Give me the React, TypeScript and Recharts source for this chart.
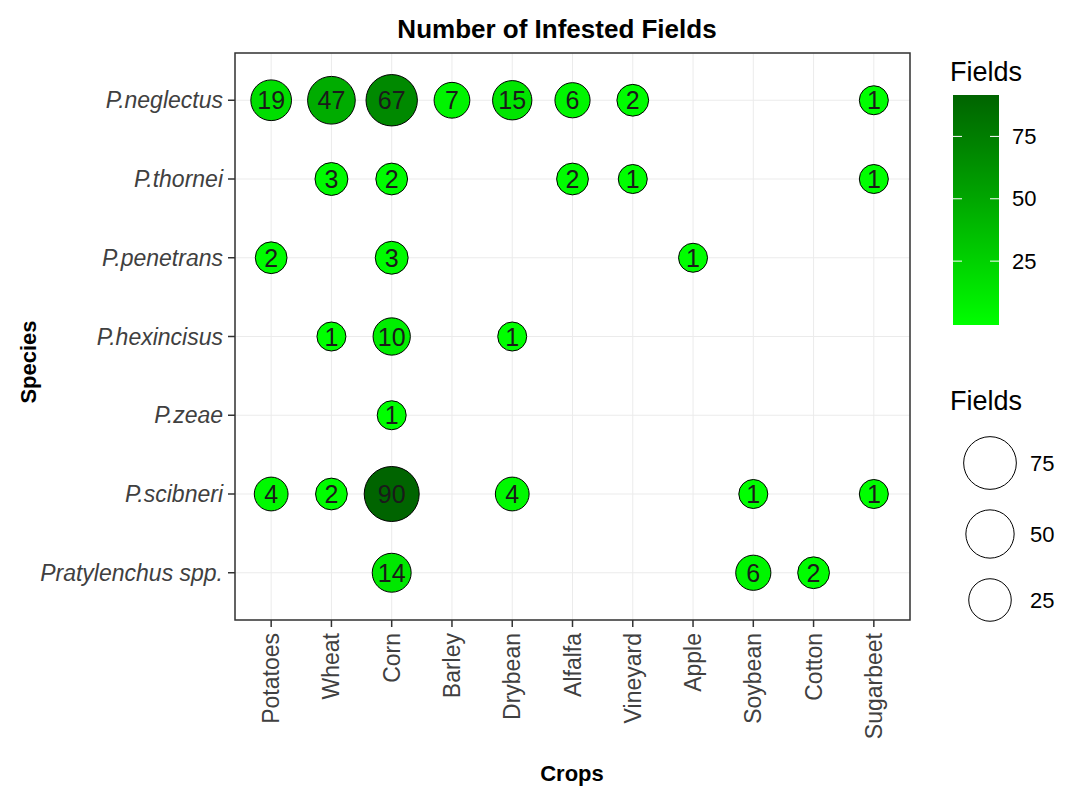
import React from 'react'
import {
  ScatterChart,
  Scatter,
  XAxis,
  YAxis,
  CartesianGrid,
  ReferenceArea,
} from 'recharts'

const crops = ['Potatoes', 'Wheat', 'Corn', 'Barley', 'Drybean', 'Alfalfa', 'Vineyard', 'Apple', 'Soybean', 'Cotton', 'Sugarbeet']
const species = ['P.neglectus', 'P.thornei', 'P.penetrans', 'P.hexincisus', 'P.zeae', 'P.scibneri', 'Pratylenchus spp.']

// fields per crop (same order as crops), null = not found
const neglectus = [19, 47, 67, 7, 15, 6, 2, null, null, null, 1]
const thornei = [null, 3, 2, null, null, 2, 1, null, null, null, 1]
const penetrans = [2, null, 3, null, null, null, null, 1, null, null, null]
const hexincisus = [null, 1, 10, null, 1, null, null, null, null, null, null]
const zeae = [null, null, 1, null, null, null, null, null, null, null, null]
const scibneri = [4, 2, 90, null, 4, null, null, null, 1, null, 1]
const sppCounts = [null, null, 14, null, null, null, null, null, 6, 2, null]

const speciesRows = [neglectus, thornei, penetrans, hexincisus, zeae, scibneri, sppCounts]

const legendBreaks = [75, 50, 25]

const MIN_V = 1
const MAX_V = 90
const FONT = '"Liberation Sans", Arial, sans-serif'
const AXIS_TEXT = '#404040'

// colour scale green -> darkgreen, interpolated in Lab like ggplot
const toLab = ([r, g, b]: number[]) => {
  const lin = (c: number) => {
    c /= 255
    return c <= 0.04045 ? c / 12.92 : Math.pow((c + 0.055) / 1.055, 2.4)
  }
  const R = lin(r), G = lin(g), B = lin(b)
  const X = (0.4124 * R + 0.3576 * G + 0.1805 * B) / 0.95047
  const Y = 0.2126 * R + 0.7152 * G + 0.0722 * B
  const Z = (0.0193 * R + 0.1192 * G + 0.9505 * B) / 1.08883
  const f = (t: number) => (t > 0.008856 ? Math.cbrt(t) : 7.787 * t + 16 / 116)
  const fx = f(X), fy = f(Y), fz = f(Z)
  return [116 * fy - 16, 500 * (fx - fy), 200 * (fy - fz)]
}

const fromLab = ([L, a, b]: number[]) => {
  const fy = (L + 16) / 116
  const fx = fy + a / 500
  const fz = fy - b / 200
  const inv = (t: number) => (t * t * t > 0.008856 ? t * t * t : (t - 16 / 116) / 7.787)
  const X = inv(fx) * 0.95047, Y = inv(fy), Z = inv(fz) * 1.08883
  const R = 3.2406 * X - 1.5372 * Y - 0.4986 * Z
  const G = -0.9689 * X + 1.8758 * Y + 0.0415 * Z
  const B = 0.0557 * X - 0.204 * Y + 1.057 * Z
  const g = (c: number) => {
    const v = c <= 0.0031308 ? 12.92 * c : 1.055 * Math.pow(c, 1 / 2.4) - 0.055
    return Math.round(Math.min(1, Math.max(0, v)) * 255)
  }
  return `rgb(${g(R)},${g(G)},${g(B)})`
}

const LOW = toLab([0, 255, 0])
const HIGH = toLab([0, 100, 0])

const colorFor = (v: number) => {
  const t = (v - MIN_V) / (MAX_V - MIN_V)
  return fromLab(LOW.map((l, i) => l + (HIGH[i] - l) * t))
}

// area scale: radius grows with sqrt of rescaled value
const radiusFor = (v: number) => 14.5 + 13 * Math.sqrt(Math.max(0, v - MIN_V) / (MAX_V - MIN_V))

const data = speciesRows.flatMap((row, si) =>
  row
    .map((v, ci) => (v == null ? null : { x: ci + 1, y: si + 1, value: v }))
    .filter(Boolean)
)

const Bubble = (props: any) => {
  const { cx, cy, payload } = props
  if (cx == null || cy == null) return null
  const v = payload.value
  return (
    <g>
      <circle cx={cx} cy={cy} r={radiusFor(v)} fill={colorFor(v)} stroke="#000" strokeWidth={1} />
      <text
        x={cx}
        y={cy}
        textAnchor="middle"
        dominantBaseline="central"
        fontSize={25}
        fontFamily={FONT}
        fill="#1a1a1a"
      >
        {v}
      </text>
    </g>
  )
}

const CropTick = ({ x, y, payload }: any) => (
  <text
    x={x}
    y={y + 4}
    transform={`rotate(-90, ${x}, ${y + 4})`}
    textAnchor="end"
    dominantBaseline="central"
    fontSize={23}
    fontFamily={FONT}
    fill={AXIS_TEXT}
  >
    {crops[payload.value - 1]}
  </text>
)

const SpeciesTick = ({ x, y, payload }: any) => (
  <text
    x={x}
    y={y}
    textAnchor="end"
    dominantBaseline="central"
    fontSize={23}
    fontStyle="italic"
    fontFamily={FONT}
    fill={AXIS_TEXT}
  >
    {species[payload.value - 1]}
  </text>
)

// colour bar geometry
const BAR_X = 953
const BAR_W = 46
const BAR_TOP = 95
const BAR_BOTTOM = 325
const barY = (v: number) => BAR_BOTTOM - 4 - ((v - MIN_V) / (MAX_V - MIN_V)) * (BAR_BOTTOM - BAR_TOP - 8)
const gradStops = [1, 10, 20, 30, 40, 50, 60, 70, 80, 90]

const sizeLegendY = [463, 534, 600]

export default function App() {
  return (
    <div style={{ position: 'absolute', left: 0, top: 0, width: 1071, height: 789, background: '#fff' }}>
      <ScatterChart width={1071} height={789} margin={{ top: 53, right: 161, bottom: 19, left: 15 }}>
        <CartesianGrid stroke="#EBEBEB" strokeWidth={1} />
        <XAxis
          type="number"
          dataKey="x"
          domain={[0.4, 11.6]}
          ticks={crops.map((_, i) => i + 1)}
          interval={0}
          height={150}
          axisLine={false}
          tickSize={7}
          tickLine={{ stroke: '#333', strokeWidth: 1.5 }}
          tick={<CropTick />}
        />
        <YAxis
          type="number"
          dataKey="y"
          domain={[0.4, 7.6]}
          ticks={species.map((_, i) => i + 1)}
          interval={0}
          reversed
          width={220}
          axisLine={false}
          tickSize={7}
          tickMargin={5}
          tickLine={{ stroke: '#333', strokeWidth: 1.5 }}
          tick={<SpeciesTick />}
        />
        <Scatter data={data} shape={<Bubble />} isAnimationActive={false} />
        <ReferenceArea x1={0.4} x2={11.6} y1={0.4} y2={7.6} fill="none" stroke="#333" strokeWidth={1.5} />
      </ScatterChart>

      <svg
        width={1071}
        height={789}
        style={{ position: 'absolute', left: 0, top: 0, pointerEvents: 'none' }}
        fontFamily={FONT}
      >
        <defs>
          <linearGradient id="fieldsGrad" x1="0" y1="1" x2="0" y2="0">
            {gradStops.map((v) => (
              <stop key={v} offset={(v - MIN_V) / (MAX_V - MIN_V)} stopColor={colorFor(v)} />
            ))}
          </linearGradient>
        </defs>
        <text x={557} y={38} textAnchor="middle" fontSize={26} fontWeight="bold" fill="#000">
          Number of Infested Fields
        </text>
        <text x={572} y={781} textAnchor="middle" fontSize={22} fontWeight="bold" fill="#000">
          Crops
        </text>
        <text
          x={36}
          y={362}
          transform="rotate(-90, 36, 362)"
          textAnchor="middle"
          fontSize={22}
          fontWeight="bold"
          fill="#000"
        >
          Species
        </text>

        {/* colour legend */}
        <text x={950} y={81} fontSize={27} fill="#000">Fields</text>
        <rect x={BAR_X} y={BAR_TOP} width={BAR_W} height={BAR_BOTTOM - BAR_TOP} fill="url(#fieldsGrad)" />
        {legendBreaks.map((b) => (
          <g key={b}>
            <line x1={BAR_X} x2={BAR_X + 9} y1={barY(b)} y2={barY(b)} stroke="#fff" strokeWidth={1} />
            <line x1={BAR_X + BAR_W - 9} x2={BAR_X + BAR_W} y1={barY(b)} y2={barY(b)} stroke="#fff" strokeWidth={1} />
            <text x={1012} y={barY(b)} dominantBaseline="central" fontSize={22} fill="#000">
              {b}
            </text>
          </g>
        ))}

        {/* size legend */}
        <text x={950} y={410} fontSize={27} fill="#000">Fields</text>
        {legendBreaks.map((b, i) => (
          <g key={b}>
            <circle cx={990} cy={sizeLegendY[i]} r={radiusFor(b)} fill="#fff" stroke="#000" strokeWidth={1} />
            <text x={1030} y={sizeLegendY[i]} dominantBaseline="central" fontSize={22} fill="#000">
              {b}
            </text>
          </g>
        ))}
      </svg>
    </div>
  )
}
